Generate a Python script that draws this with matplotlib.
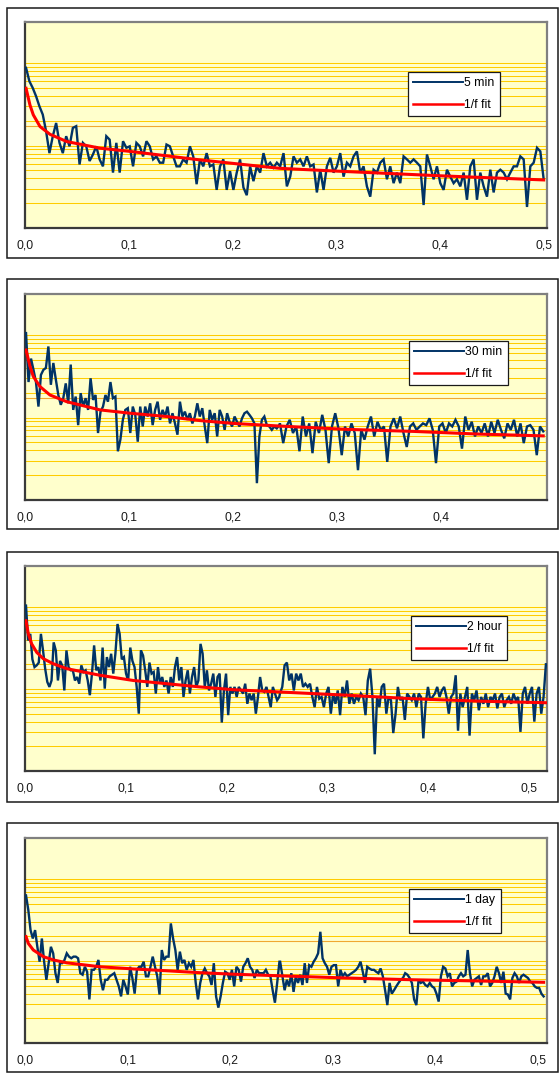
import numpy as np
import matplotlib
matplotlib.use("Agg")
import matplotlib.pyplot as plt
from matplotlib.lines import Line2D
from matplotlib.patches import Rectangle
from matplotlib.ticker import NullLocator

plt.rcParams['font.family'] = ['Liberation Sans', 'DejaVu Sans']

# ---------------- data ----------------

series_labels = ['5 min', '30 min', '2 hour', '1 day']
fit_label = '1/f fit'

# 5 min spectrum, left and right half of the trace
spec_5min_a = [87.8, 60.4, 50.1, 39.7, 30.0, 23.8, 14.9, 8.1, 13.0, 18.8,
               10.8, 8.1, 13.0, 9.8, 16.4, 17.2, 5.9, 10.8, 9.8, 6.5,
               7.8, 9.8, 6.8, 5.6, 13.0, 11.8, 4.7, 10.8, 4.7, 11.3,
               9.4, 9.8, 5.6, 10.8, 9.8, 7.4, 11.3, 9.8, 6.8, 7.4,
               6.2, 6.2, 10.3, 9.8, 7.4, 5.6, 5.6, 6.8, 6.2, 9.8,
               7.4, 3.4, 6.8, 5.6, 8.1, 5.6, 5.9, 2.9, 5.6, 6.8,
               2.9, 4.9, 2.9, 4.7, 6.8, 3.1, 2.5, 5.6, 3.7, 5.6,
               4.7, 8.1, 5.6, 6.2, 5.4, 6.2]
spec_5min_b = [5.6, 8.1, 3.2, 4.2, 7.4, 6.2, 6.8, 5.6, 7.4, 5.6,
               5.9, 2.7, 5.1, 2.9, 5.6, 7.1, 4.7, 5.6, 8.1, 4.2,
               6.2, 5.6, 7.4, 8.5, 4.7, 5.6, 3.2, 2.4, 5.1, 4.7,
               6.2, 6.8, 3.9, 5.6, 3.5, 4.7, 3.5, 7.4, 6.8, 6.2,
               6.8, 6.2, 5.6, 1.9, 7.8, 5.6, 3.9, 5.6, 3.5, 2.9,
               5.1, 4.2, 3.5, 3.9, 3.2, 4.7, 2.2, 5.6, 6.8, 2.2,
               4.7, 3.2, 2.4, 5.1, 2.7, 4.7, 5.1, 4.7, 3.9, 4.7,
               5.6, 5.6, 7.4, 6.8, 1.8, 5.6, 6.2, 9.4, 8.5, 3.9]
freq_5min = [(0.001, 0.2427), (0.2459, 0.4998)]
fit_5min_f = [0.001, 0.0048, 0.008, 0.0145, 0.0241, 0.0402, 0.0723, 0.1013,
              0.1688, 0.2452, 0.3006, 0.4002, 0.4998]
fit_5min_p = [49.6, 31.0, 23.6, 17.0, 13.7, 11.2, 9.3, 8.5, 6.7, 5.3, 4.9, 4.3, 3.83]

# 30 min spectrum
spec_30min_a = [106, 27, 52, 38, 27, 13.6, 33, 38, 40, 73,
                25, 46, 29, 18.8, 14.3, 17.2, 26, 14.9, 44, 12.4,
                18.0, 8.1, 19.8, 13.6, 17.2, 12.4, 30, 16.4, 18.8, 6.5,
                11.8, 13.6, 18.8, 15.6, 27, 17.2, 18.0, 3.9, 5.4, 9.4,
                12.4, 13.0, 6.5, 13.6, 10.8, 5.1, 13.6, 7.8, 13.6, 10.3,
                14.9, 8.1, 12.4, 15.6, 9.4, 12.4, 10.3, 13.6, 8.5, 11.3,
                8.5, 6.2, 15.6, 10.3, 11.8, 9.4, 11.3, 8.5, 10.3, 14.9,
                10.3, 13.0, 7.8, 4.9, 12.4, 9.4, 11.3, 5.9, 12.4, 10.3,
                7.1, 11.3, 8.9, 7.8, 10.3, 8.9, 7.8, 9.8, 11.3, 11.8,
                10.8, 9.8, 8.5, 1.6, 5.9, 9.4, 10.3, 8.1, 7.8, 7.1,
                7.8, 7.4, 8.1]
spec_30min_b = [8.5, 4.9, 7.8, 9.4, 6.5, 7.8, 3.9, 10.3, 5.9, 8.5,
                3.7, 8.9, 6.5, 10.8, 7.1, 2.8, 7.8, 11.3, 7.4, 3.5,
                7.8, 5.9, 8.5, 6.5, 2.3, 7.1, 5.4, 7.8, 10.3, 5.9,
                8.9, 7.1, 7.8, 2.9, 7.8, 9.8, 7.4, 10.3, 6.5, 4.4,
                7.8, 8.5, 7.1, 7.8, 8.5, 8.1, 9.8, 7.1, 2.8, 7.8,
                8.5, 6.5, 8.5, 7.8, 9.4, 7.8, 4.2, 10.3, 7.1, 8.9,
                5.9, 7.8, 6.5, 8.5, 5.9, 8.9, 6.5, 9.4, 7.1, 5.6,
                8.5, 7.1, 9.4, 5.9, 8.5, 4.9, 7.8, 8.1, 7.1, 3.5,
                7.8, 6.8]
freq_30min = [(0.001, 0.2445), (0.2452, 0.4984)]
fit_30min_f = [0.001, 0.0048, 0.008, 0.0144, 0.024, 0.0401, 0.0721, 0.101,
               0.1362, 0.1683, 0.2003, 0.2445, 0.3093, 0.3734, 0.4375, 0.4984]
fit_30min_p = [66, 42, 31.5, 23.8, 18.8, 15.6, 12.4, 11.3,
               10.3, 9.2, 8.5, 7.9, 7.2, 6.8, 6.3, 6.0]

# 2 hour spectrum
spec_2h_a = [104, 39, 47, 23, 18.5, 19.4, 21, 47, 29.5, 17.7,
             12.2, 10.6, 12.7, 37, 29.5, 12.7, 22, 19.4, 9.6, 29.5,
             18.5, 16.9, 16.9, 12.7, 14, 11.6, 19.4, 16.1, 16.9, 12.7,
             8.4, 15.4, 34, 16.9, 18.5, 12.7, 32, 10.1, 24.5, 18.5,
             26.9, 15.4, 26.9, 62, 47, 23, 24.5, 15.4, 12.7, 32,
             22, 18.5, 10.6, 5.0, 29.5, 25.6, 16.9, 10.6, 21, 15.4,
             16.1, 8.8, 18.5, 11.6, 14, 10.6, 12.7, 8.8, 14, 10.6,
             18.5, 24.5, 12.7, 18.5, 8.0, 12.7, 16.9, 8.8, 14, 18.5,
             10.6, 12.7, 35.5, 26.9, 10.6, 16.9, 9.6, 11.6, 15.4, 8.0,
             14, 15.4, 3.9, 9.6, 15.4, 4.8, 10.6, 8.8, 10.6, 8.0,
             10.6, 9.6, 8.8, 11.6, 6.6, 8.8, 7.3, 8.8, 5.0, 8.0,
             14, 9.6, 9.2, 10.6, 8.0, 6.0, 10.6, 8.8, 7.3, 8.0]
spec_2h_b = [8.8, 10.6, 19.4, 21, 12.7, 15.4, 9.6, 15.4, 12.7, 15.4,
             10.6, 11.6, 10.6, 11.6, 8.0, 6.0, 10.6, 7.6, 8.0, 6.0,
             8.8, 10.6, 5.0, 8.8, 6.6, 9.6, 4.8, 10.6, 8.0, 12.7,
             6.6, 8.8, 6.6, 8.0, 7.3, 8.8, 8.0, 4.8, 12.7, 17.7,
             8.0, 1.6, 8.0, 6.0, 10.6, 11.6, 5.0, 8.0, 7.3, 2.9,
             5.0, 10.6, 7.3, 8.0, 4.2, 8.8, 8.0, 7.3, 8.8, 6.0,
             8.8, 8.0, 2.5, 6.6, 10.6, 7.3, 8.0, 8.8, 10.6, 8.0,
             9.6, 10.6, 8.0, 5.0, 8.0, 8.8, 14.7, 3.1, 8.8, 6.0,
             8.0, 10.6, 2.7, 8.8, 7.3, 9.6, 5.5, 8.0, 6.6, 8.8,
             6.0, 8.0, 7.3, 8.8, 5.8, 8.0, 8.8, 6.0, 7.3, 8.0,
             6.6, 8.8, 7.3, 8.0, 3.0, 8.8, 10.6, 6.6, 8.8, 10.6,
             4.0, 8.8, 10.6, 5.0, 8.0, 20]
freq_2h = [(0.001, 0.2523), (0.253, 0.5169)]
fit_2h_f = [0.001, 0.0033, 0.0066, 0.0116, 0.0182, 0.0281, 0.0414, 0.0744,
            0.1074, 0.1406, 0.1736, 0.2067, 0.2523, 0.3191, 0.3852, 0.4514, 0.5169]
fit_2h_p = [68, 47, 35.5, 28, 23.4, 20.3, 17.7, 14.7,
            12.7, 11.6, 10.6, 9.8, 9.2, 8.4, 7.6, 7.1, 6.8]

# 1 day spectrum
spec_1d_a = [63, 42, 23.8, 18.8, 23.8, 14.9, 9.8, 18.8, 9.8, 5.9,
             9.4, 14.9, 12.4, 7.1, 5.4, 9.4, 9.4, 10.3, 12.4, 11.3,
             10.8, 11.3, 11.3, 10.8, 7.1, 6.8, 8.5, 7.4, 3.4, 7.8,
             7.8, 8.5, 10.3, 5.9, 4.4, 5.9, 5.9, 6.5, 6.8, 7.1,
             5.9, 4.9, 3.7, 5.9, 4.9, 3.9, 8.5, 6.2, 4.0, 7.8,
             8.5, 8.5, 9.8, 6.5, 6.5, 8.5, 11.3, 8.5, 6.5, 3.9,
             13.6, 10.3, 11.3, 11.3, 28.7, 18.8, 13.6, 7.8, 13.0, 9.4,
             10.3, 7.8, 9.4, 8.5, 10.3, 5.4, 3.4, 5.4, 7.1, 8.1,
             7.1, 6.5, 5.1, 9.4, 3.7, 2.7, 3.7, 5.4, 7.4, 7.1,
             5.9, 7.8, 4.9, 8.5, 7.8, 5.6, 8.5, 9.4, 10.8, 8.5,
             7.8, 6.2, 7.8, 7.1, 7.1, 7.1, 7.8, 6.8, 6.5, 4.4,
             3.1, 5.4, 9.8]
spec_1d_b = [9.8, 6.5, 4.4, 5.9, 4.9, 7.1, 4.2, 6.5, 5.4, 6.8,
             5.1, 9.4, 5.4, 8.9, 8.5, 9.8, 10.8, 12.4, 22.7, 10.8,
             9.4, 8.5, 6.8, 8.5, 8.9, 8.9, 4.9, 7.8, 6.5, 7.1,
             6.5, 6.8, 7.1, 7.4, 7.8, 8.5, 9.8, 7.4, 5.4, 8.5,
             8.1, 7.8, 7.8, 7.4, 7.1, 8.1, 6.5, 4.4, 2.9, 5.4,
             4.0, 4.4, 4.9, 5.4, 5.9, 6.2, 7.1, 6.8, 6.2, 5.4,
             3.4, 2.9, 5.9, 5.4, 5.6, 5.1, 4.9, 5.4, 4.9, 4.7,
             4.0, 3.2, 6.5, 8.5, 8.1, 6.5, 7.1, 4.9, 5.4, 5.6,
             6.5, 7.1, 6.5, 6.8, 13.6, 7.1, 4.9, 5.9, 6.2, 6.5,
             5.1, 6.5, 6.5, 7.1, 4.9, 5.4, 6.5, 8.5, 7.1, 5.4,
             7.4, 4.0, 3.9, 3.4, 6.2, 7.1, 6.5, 5.4, 6.5, 6.8,
             6.5, 6.2, 5.6, 5.4, 4.9, 4.7, 4.7, 4.0, 3.7]
freq_1d = [(0.001, 0.2481), (0.2488, 0.5057)]
fit_1d_f = [0.001, 0.0032, 0.0081, 0.0179, 0.0276, 0.0407, 0.0732, 0.1057,
            0.1382, 0.1707, 0.2033, 0.2481, 0.3138, 0.3788, 0.4439, 0.5057]
fit_1d_p = [19.8, 16.4, 13.6, 11.3, 10.3, 9.5, 8.5, 8.0,
            7.6, 7.2, 6.9, 6.6, 6.2, 5.9, 5.7, 5.5]

# axis ranges and ticks
x_max = [0.503, 0.502, 0.518, 0.509]
x_ticks = [[0.0, 0.1, 0.2, 0.3, 0.4, 0.5],
           [0.0, 0.1, 0.2, 0.3, 0.4],
           [0.0, 0.1, 0.2, 0.3, 0.4, 0.5],
           [0.0, 0.1, 0.2, 0.3, 0.4, 0.5]]
y_range = (1, 316)
grid_levels = [2, 3, 4, 5, 6, 7, 8, 9, 10, 20, 30, 40, 50, 60, 70, 80, 90, 100]
accent_level = 17.5

panels = [
    (spec_5min_a, spec_5min_b, freq_5min, fit_5min_f, fit_5min_p),
    (spec_30min_a, spec_30min_b, freq_30min, fit_30min_f, fit_30min_p),
    (spec_2h_a, spec_2h_b, freq_2h, fit_2h_f, fit_2h_p),
    (spec_1d_a, spec_1d_b, freq_1d, fit_1d_f, fit_1d_p),
]

# ---------------- layout (pixels of a 560 x 1073 canvas) ----------------
W, H = 560, 1073
navy = '#003366'
red = '#FF0000'

ax_left, ax_right = 25, 547
ax_tops = [22, 294, 566, 838]
ax_bottoms = [228, 500, 771, 1043]
frame_tops = [8, 279, 552, 823]
frame_bottoms = [258, 529, 802, 1072]
legend_anchor = [(408, 72), (409, 341), (411, 616), (409, 889)]

fig = plt.figure(figsize=(W / 100, H / 100), dpi=100)

for i, (spec_a, spec_b, freqs, fit_f, fit_p) in enumerate(panels):
    # white chart frame, kept behind the axes
    fig.patches.append(Rectangle((7 / W, 1 - frame_bottoms[i] / H),
                                 551 / W, (frame_bottoms[i] - frame_tops[i]) / H,
                                 transform=fig.transFigure, facecolor='white',
                                 edgecolor='#1a1a1a', linewidth=1.1, zorder=-5))

    top, bot = ax_tops[i], ax_bottoms[i]
    ax = fig.add_axes([ax_left / W, 1 - bot / H, (ax_right - ax_left) / W, (bot - top) / H])
    ax.set_facecolor('#FFFFCC')
    ax.set_yscale('log')
    ax.set_ylim(*y_range)
    ax.set_xlim(0, x_max[i])

    for lev in grid_levels:
        ax.axhline(lev, color='#FFCC00', linewidth=0.75, zorder=1)
    ax.axhline(accent_level, color='#F0A830', linewidth=0.8, zorder=1)

    f_a = np.linspace(freqs[0][0], freqs[0][1], len(spec_a))
    f_b = np.linspace(freqs[1][0], freqs[1][1], len(spec_b))
    ax.plot(np.concatenate([f_a, f_b]), spec_a + spec_b,
            color=navy, linewidth=1.7, zorder=3, solid_joinstyle='miter')
    ax.plot(fit_f, fit_p, color=red, linewidth=2.2, zorder=4)

    ax.yaxis.set_major_locator(NullLocator())
    ax.yaxis.set_minor_locator(NullLocator())
    ax.set_xticks(x_ticks[i])
    ax.set_xticklabels([f'{t:.1f}'.replace('.', ',') for t in x_ticks[i]])
    ax.tick_params(axis='x', length=0, pad=8.5, labelsize=8.7, colors='#1a1a1a')
    ax.tick_params(axis='y', length=0)

    for side in ['top', 'right']:
        ax.spines[side].set_color('#808080')
        ax.spines[side].set_linewidth(1.6)
    for side in ['left', 'bottom']:
        ax.spines[side].set_color('#3a3a3a')
        ax.spines[side].set_linewidth(1.6)

    lx, ly = legend_anchor[i]
    handles = [Line2D([], [], color=navy, linewidth=1.4),
               Line2D([], [], color=red, linewidth=1.8)]
    leg = ax.legend(handles, [series_labels[i], fit_label],
                    loc='upper left',
                    bbox_to_anchor=((lx - ax_left) / (ax_right - ax_left),
                                    (bot - ly) / (bot - top)),
                    borderaxespad=0, fontsize=8.8, handlelength=4.1,
                    handletextpad=0.1, labelspacing=0.8, borderpad=0.42,
                    fancybox=False, framealpha=1, edgecolor='#1a1a1a')
    leg.get_frame().set_linewidth(0.9)

fig.savefig('out.png', dpi=100, facecolor='white')
